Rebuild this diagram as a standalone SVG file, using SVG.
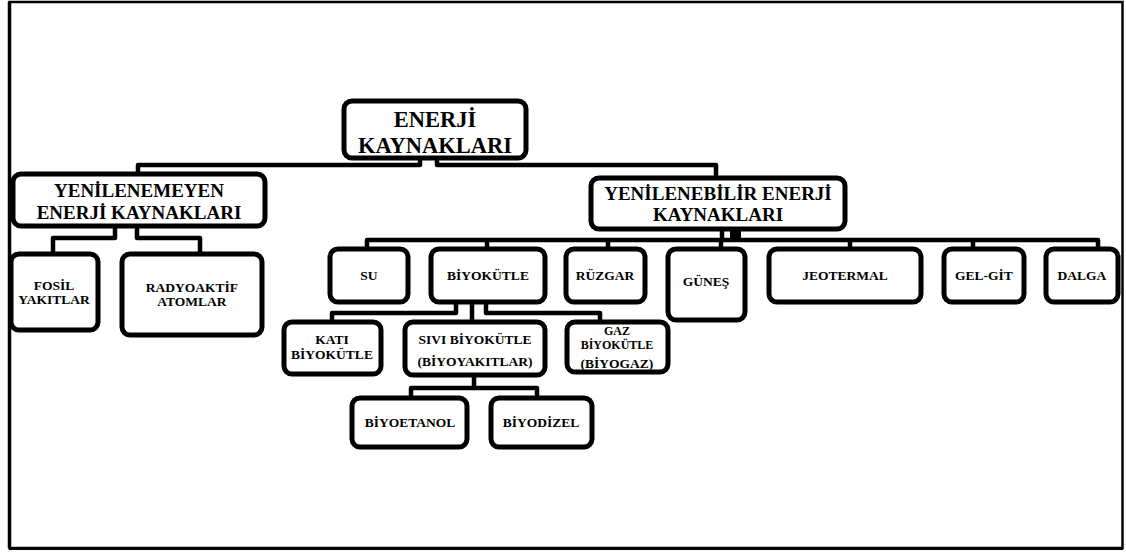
<svg xmlns="http://www.w3.org/2000/svg" width="1126" height="553" viewBox="0 0 1126 553">
<style>
.box{fill:#fff;stroke:#000;stroke-width:5;}
.ln{fill:none;stroke:#000;stroke-width:4.5;stroke-linejoin:round;}
text{font-family:"Liberation Serif","Times New Roman",serif;font-weight:bold;fill:#000;text-anchor:middle;}
.big{font-size:22.5px;}
.mid{font-size:19px;}
.sm{font-size:13.5px;}
.xs{font-size:12px;}
</style>
<rect x="0" y="0" width="1126" height="553" fill="#fff"/>
<rect x="9.5" y="2" width="1113" height="546" fill="none" stroke="#000" stroke-width="2.5"/>
<line x1="9.5" y1="2" x2="9.5" y2="548" stroke="#000" stroke-width="3.5"/>
<line x1="9" y1="548.5" x2="1123" y2="548.5" stroke="#000" stroke-width="3"/>

<g id="connectors">
<path class="ln" d="M420 158 V165 H138 V174"/>
<path class="ln" d="M437 158 V165 H716 V178"/>
<path class="ln" d="M115 226 V238 H53 V254"/>
<path class="ln" d="M137 226 V238 H200 V254"/>
<path class="ln" d="M722 229 V240"/>
<rect x="730" y="229" width="11" height="11" fill="#000"/>
<path class="ln" d="M367 249 V240 H1098 V249"/>
<path class="ln" d="M487 240 V249"/>
<path class="ln" d="M608 240 V249"/>
<path class="ln" d="M721 240 V249"/>
<path class="ln" d="M850 240 V249"/>
<path class="ln" d="M973 240 V249"/>
<path class="ln" d="M456 302 V313 H332 V322"/>
<path class="ln" d="M472 302 V322"/>
<path class="ln" d="M486 302 V313 H600 V322"/>
<path class="ln" d="M474 375 V388 H411 V398"/>
<path class="ln" d="M474 388 H537 V398"/>
</g>

<g id="n-root">
<rect class="box" x="344" y="101" width="182" height="57" rx="8"/>
<text class="big" x="435" y="127">ENERJİ</text>
<text class="big" x="435" y="153">KAYNAKLARI</text>
</g>
<g id="n-yenilenemeyen">
<rect class="box" x="13" y="174" width="252" height="52" rx="8"/>
<text class="mid" x="139" y="197">YENİLENEMEYEN</text>
<text class="mid" x="139" y="219">ENERJİ KAYNAKLARI</text>
</g>
<g id="n-fosil">
<rect class="box" x="11" y="254" width="87" height="76" rx="8"/>
<text class="sm" x="54" y="290">FOSİL</text>
<text class="sm" x="54" y="304">YAKITLAR</text>
</g>
<g id="n-radyoaktif">
<rect class="box" x="122" y="254" width="140" height="81" rx="8"/>
<text class="sm" x="192" y="292">RADYOAKTİF</text>
<text class="sm" x="192" y="306">ATOMLAR</text>
</g>
<g id="n-yenilenebilir">
<rect class="box" x="591" y="178" width="254" height="51" rx="8"/>
<text class="mid" x="718" y="200">YENİLENEBİLİR ENERJİ</text>
<text class="mid" x="718" y="221">KAYNAKLARI</text>
</g>
<g id="n-su">
<rect class="box" x="330" y="249" width="78" height="53" rx="8"/>
<text class="sm" x="369" y="280">SU</text>
</g>
<g id="n-biyokutle">
<rect class="box" x="431" y="249" width="114" height="53" rx="8"/>
<text class="sm" x="488" y="280">BİYOKÜTLE</text>
</g>
<g id="n-ruzgar">
<rect class="box" x="566" y="249" width="79" height="53" rx="8"/>
<text class="sm" x="605" y="280">RÜZGAR</text>
</g>
<g id="n-gunes">
<rect class="box" x="668" y="249" width="77" height="71" rx="8"/>
<text class="sm" x="706" y="286">GÜNEŞ</text>
</g>
<g id="n-jeotermal">
<rect class="box" x="769" y="249" width="152" height="53" rx="8"/>
<text class="sm" x="845" y="280">JEOTERMAL</text>
</g>
<g id="n-gelgit">
<rect class="box" x="944" y="249" width="80" height="53" rx="8"/>
<text class="sm" x="984" y="280">GEL-GİT</text>
</g>
<g id="n-dalga">
<rect class="box" x="1046" y="249" width="72" height="53" rx="8"/>
<text class="sm" x="1082" y="280">DALGA</text>
</g>
<g id="n-kati">
<rect class="box" x="284" y="322" width="97" height="52" rx="8"/>
<text class="sm" x="332" y="344">KATI</text>
<text class="sm" x="332" y="359">BİYOKÜTLE</text>
</g>
<g id="n-sivi">
<rect class="box" x="405" y="322" width="140" height="53" rx="8"/>
<text class="sm" x="475" y="344">SIVI BİYOKÜTLE</text>
<text class="sm" x="475" y="366">(BİYOYAKITLAR)</text>
</g>
<g id="n-gaz">
<rect class="box" x="567" y="322" width="101" height="50" rx="8"/>
<text class="xs" x="617" y="335">GAZ</text>
<text class="xs" x="617" y="349">BİYOKÜTLE</text>
<text class="sm" x="617" y="368">(BİYOGAZ)</text>
</g>
<g id="n-biyoetanol">
<rect class="box" x="352" y="398" width="115" height="49" rx="8"/>
<text class="sm" x="410" y="427">BİYOETANOL</text>
</g>
<g id="n-biyodizel">
<rect class="box" x="491" y="398" width="101" height="49" rx="8"/>
<text class="sm" x="541" y="427">BİYODİZEL</text>
</g>
</svg>
